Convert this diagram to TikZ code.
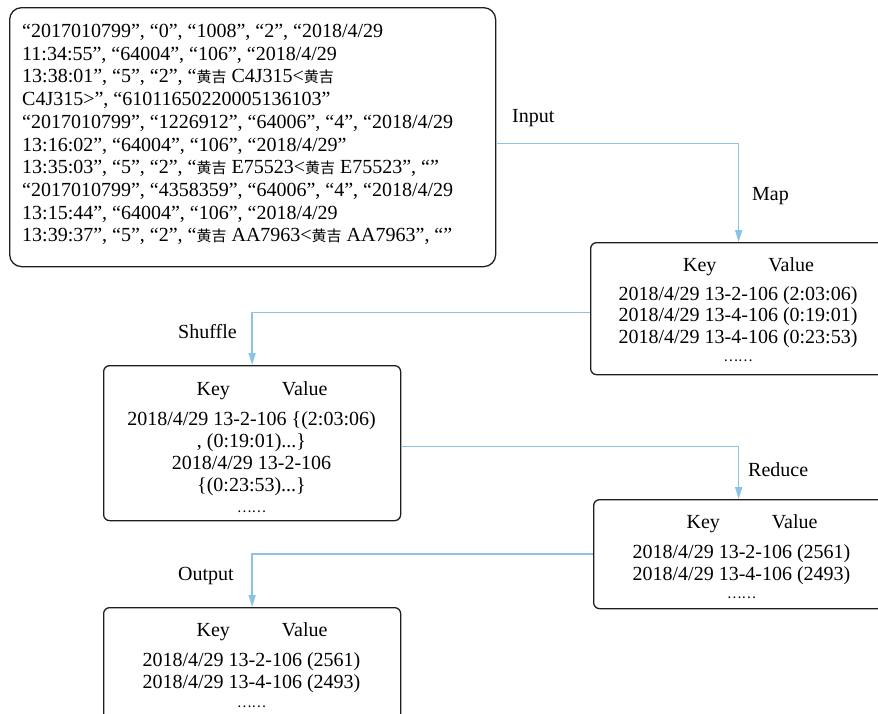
\documentclass[tikz,border=0pt]{standalone}
\usepackage{fontspec}
\setmainfont{Liberation Serif}
\newfontfamily\cjk[Scale=0.75]{Noto Sans CJK SC}
\newfontfamily\cjkd[Scale=0.68]{Noto Sans CJK SC}
\usetikzlibrary{arrows.meta}
\definecolor{connblue}{RGB}{137,196,232}
\definecolor{boxline}{RGB}{30,30,30}
\newcommand{\hj}{{\cjk 黄吉}}
\newcommand{\cjkdots}{{\cjkd ……}}
\begin{document}
\begin{tikzpicture}[x=1pt,y=-1pt,
  box/.style={draw=boxline, line width=1.3pt, rounded corners=6pt, inner sep=0pt, anchor=north west},
  conn/.style={draw=connblue, line width=1.5pt, -{Triangle[length=12pt,width=7pt]}},
  lbl/.style={anchor=base west, inner sep=0pt, font=\fontsize{20}{22}\selectfont},
  kv/.style={anchor=base, inner sep=0pt, font=\fontsize{20}{22}\selectfont},
]
\clip (0,0) rectangle (878,713);

% boxes
\node[box, rounded corners=12pt, minimum width=486pt, minimum height=259pt] (inbox) at (9,7) {};
\node[box, minimum width=296pt, minimum height=132pt] (mapbox) at (590,242) {};
\node[box, minimum width=297pt, minimum height=155pt] (shufbox) at (103,365) {};
\node[box, minimum width=290pt, minimum height=109pt] (redbox) at (593,499) {};
\node[box, minimum width=297pt, minimum height=120pt] (outbox) at (103,607) {};

% input text
\node[anchor=base west, inner sep=0pt, font=\fontsize{20}{22.7}\selectfont] (intext) at (22,37.5) {%
\begin{tabular}[t]{@{}l@{}}
“2017010799”, “0”, “1008”, “2”, “2018/4/29\\
11:34:55”, “64004”, “106”, “2018/4/29\\
13:38:01”, “5”, “2”, “\hj{} C4J315<\hj\\
C4J315>”, “61011650220005136103”\\
“2017010799”, “1226912”, “64006”, “4”, “2018/4/29\\
13:16:02”, “64004”, “106”, “2018/4/29”\\
13:35:03”, “5”, “2”, “\hj{} E75523<\hj{} E75523”, “”\\
“2017010799”, “4358359”, “64006”, “4”, “2018/4/29\\
13:15:44”, “64004”, “106”, “2018/4/29\\
13:39:37”, “5”, “2”, “\hj{} AA7963<\hj{} AA7963”, “”
\end{tabular}};

% map box text
\node[kv] (mapkey) at (748.5,271.6) {Key\hspace{52pt}Value};
\node[kv, font=\fontsize{20}{21.6}\selectfont] (mapdata) at (738,300.2) {%
\begin{tabular}[t]{@{}c@{}}
2018/4/29 13-2-106 (2:03:06)\\
2018/4/29 13-4-106 (0:19:01)\\
2018/4/29 13-4-106 (0:23:53)\\[-4pt]
\cjkdots
\end{tabular}};

% shuffle box text
\node[kv] (shufkey) at (262,395) {Key\hspace{52pt}Value};
\node[kv, font=\fontsize{20}{22}\selectfont] (shufdata) at (251.5,425.2) {%
\begin{tabular}[t]{@{}c@{}}
2018/4/29 13-2-106 \{(2:03:06)\\
, (0:19:01)...\}\\
2018/4/29 13-2-106\\
\{(0:23:53)...\}\\[-1pt]
\cjkdots
\end{tabular}};

% reduce box text
\node[kv] (redkey) at (752,528.5) {Key\hspace{52pt}Value};
\node[kv, font=\fontsize{20}{21.5}\selectfont] (reddata) at (741.5,558.5) {%
\begin{tabular}[t]{@{}c@{}}
2018/4/29 13-2-106 (2561)\\
2018/4/29 13-4-106 (2493)\\[-3pt]
\cjkdots
\end{tabular}};

% output box text
\node[kv] (outkey) at (262,636.8) {Key\hspace{52pt}Value};
\node[kv, font=\fontsize{20}{21.7}\selectfont] (outdata) at (251.5,666.8) {%
\begin{tabular}[t]{@{}c@{}}
2018/4/29 13-2-106 (2561)\\
2018/4/29 13-4-106 (2493)\\[-3pt]
\cjkdots
\end{tabular}};

% connectors
\draw[conn] ([yshift=-6.5pt]inbox.east) -| (mapbox.north);
\draw[conn] ([yshift=-4pt]mapbox.west) -| (shufbox.north);
\draw[conn] ([yshift=-3.5pt]shufbox.east) -| (redbox.north);
\draw[conn] (redbox.west) -| (outbox.north);

% labels
\node[lbl] (linput) at (512,122.5) {Input};
\node[lbl] (lmap) at (752,200) {Map};
\node[lbl] (lshuf) at (178,338.5) {Shuffle};
\node[lbl] (lred) at (748,476.7) {Reduce};
\node[lbl] (lout) at (178,580) {Output};
\end{tikzpicture}
\end{document}
